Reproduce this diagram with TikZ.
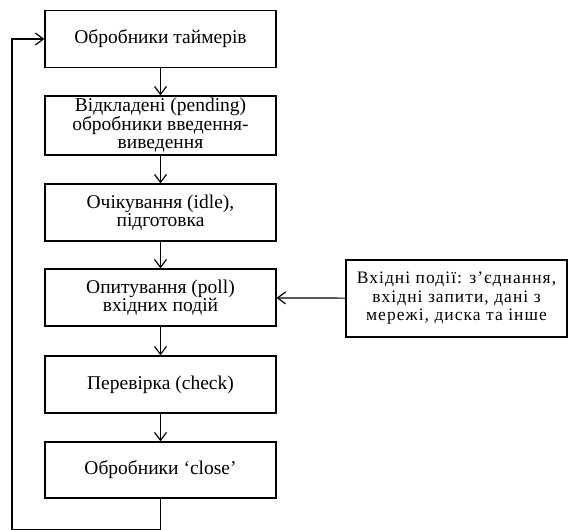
\documentclass[tikz,border=0pt]{standalone}
\usepackage{fontspec}
\setmainfont{Liberation Serif}
\usetikzlibrary{positioning, arrows.meta}
\tikzset{%
	x = {(1pt,0)}, y = {(0,-1pt)},
	>={Straight Barb[length=8pt, width=12pt]},
	every path/.append style={line width = 1.2pt},
	stage/.style = {name = #1, draw, rectangle, minimum width = 231pt, minimum height = 57pt, align = center, inner sep = 1pt, font = \fontsize{19.5}{17.5}\selectfont},
	src/.style = {name = #1, draw, rectangle, minimum width = 221pt, minimum height = 77pt, align = center, inner sep = 1pt, font = \fontsize{17.5}{18.5}\selectfont\addfontfeature{LetterSpace=6}}
}
\begin{document}
\begin{tikzpicture}
			\useasboundingbox (0,0) rectangle (569,529);
			\node [stage = {T}] at (160.5,39) {Обробники таймерів};
			\node [stage = {P}, minimum height = 59pt, font = \fontsize{19.5}{18}\selectfont] at (160.5,125.5) {Відкладені (pending)\\обробники введення-\\виведення};
			\node [stage = {I}] at (160.5,212.5) {Очікування (idle),\\підготовка};
			\node [stage = {O}] at (160.5,297.5) {Опитування (poll)\\вхідних подій};
			\node [stage = {K}] at (160.5,384.5) {Перевірка (check)};
			\node [stage = {C}, minimum height = 56pt] at (160.5,470) {Обробники ‘close’};
			\node [src = {E}] at (456.5,298.5) {Вхідні події: з’єднання,\\вхідні запити, дані з\\мережі, диска та інше};
			\coordinate (b1) at (160.5,529.5);
			\coordinate (b2) at (12,529.5);
			\path [->] (T) edge (P);
			\path [->] (P) edge (I);
			\path [->] (I) edge (O);
			\path [->] (O) edge (K);
			\path [->] (K) edge (C);
			\path [->] (E) edge (O);
			\draw [->] (C.south) -- (b1) -- (b2) |- (T.west);
			\end{tikzpicture}
\end{document}
